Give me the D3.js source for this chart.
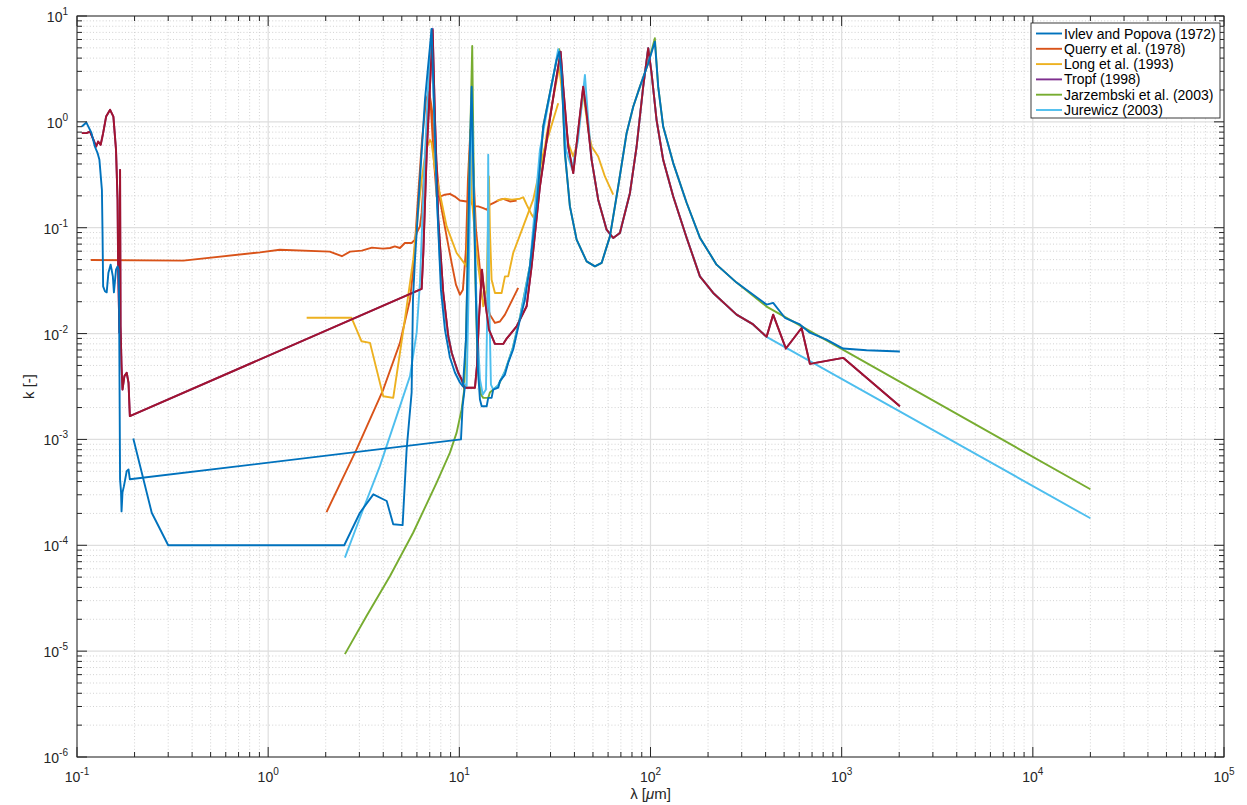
<!DOCTYPE html>
<html>
<head>
<meta charset="utf-8">
<script src="https://cdn.jsdelivr.net/npm/d3@7"></script>
<style>
  body { margin: 0; background: #fff; }
  svg { display: block; }
  text { font-family: "Liberation Sans", Arial, Helvetica, sans-serif; }
</style>
</head>
<body>
<svg id="chart" width="1247" height="805"></svg>
<script>
// Absorption index k versus wavelength (µm) for several published data sets, log-log axes

const legendLabels = [
  "Ivlev and Popova (1972)",
  "Querry et al. (1978)",
  "Long et al. (1993)",
  "Tropf (1998)",
  "Jarzembski et al. (2003)",
  "Jurewicz (2003)"
];
const seriesColors = ["#0072BD", "#D95319", "#EDB120", "#7E2F8E", "#77AC30", "#4DBEEE"];
const extraColor = "#A2142F";

const xTickExponents = [-1, 0, 1, 2, 3, 4, 5];
const yTickExponents = [-6, -5, -4, -3, -2, -1, 0, 1];

// Ivlev and Popova: UV part plus the joining segment up to 10 µm
const ivlevUvLambda = [0.106,0.112,0.119,0.124,0.128,0.131,0.135,0.136,0.137,0.140,0.143,0.146,0.150,0.154,0.156,0.160,0.163,0.165,0.166,0.168,0.170,0.171,0.173,0.176,0.182,0.186,0.189,10.2,10.4,10.7];
const ivlevUvK = [0.903,0.985,0.787,0.585,0.510,0.438,0.228,0.0897,0.0279,0.0251,0.0245,0.0376,0.0448,0.0347,0.0245,0.0402,0.0431,0.0402,0.0209,4.2e-4,3.16e-4,2.09e-4,3.16e-4,3.62e-4,5.02e-4,5.21e-4,4.2e-4,1.0e-3,2.06e-3,3.18e-3];

// Ivlev and Popova: visible / infrared part
const ivlevIrLambda = [0.197,0.246,0.30,2.5,3.02,3.55,4.17,4.51,5.05,5.30,5.63,5.72,5.86,6.22,6.61,7.16,7.36,7.64,8.01,8.41,8.93,9.48,10.07,10.44,10.83,11.09,11.36,11.60,11.92,12.22,12.51,12.82,13.09,13.90,14.16,14.75,15.04,15.98,16.31,17.32,18.02,19.13,20.75,22.03,23.40,25.37,27.47,29.77,32.28,33.31,34.28,35.67,37.88,41.07,46.33,51.21,55.51,61.35,67.78,74.99,81.21,88.04,97.27,105.4,109.7,116.5,131.5,154.5,181.3,221.6,282.0,404.8,438.2,504.7,604.4,681.9,833.7,1018,1350,2016];
const ivlevIrK = [1.02e-3,2.03e-4,1.0e-4,1.0e-4,2.03e-4,3.03e-4,2.62e-4,1.58e-4,1.55e-4,8.05e-4,2.78e-3,0.0209,0.0499,0.284,1.61,7.53,1.61,0.184,0.026,0.0109,5.94e-3,4.29e-3,3.45e-3,3.16e-3,8.78e-3,0.062,0.544,2.15,0.184,0.0209,4.57e-3,2.38e-3,2.06e-3,2.06e-3,2.47e-3,2.47e-3,2.96e-3,3.08e-3,3.55e-3,4.10e-3,5.30e-3,7.07e-3,0.0136,0.0209,0.0431,0.159,0.903,1.87,3.85,4.60,2.88,0.507,0.159,0.0771,0.0481,0.0431,0.0465,0.0828,0.245,0.782,1.39,2.15,3.58,5.72,2.15,0.903,0.408,0.172,0.0805,0.0448,0.0303,0.0188,0.0195,0.0141,0.0122,0.0102,8.78e-3,7.22e-3,6.95e-3,6.76e-3];

// Querry et al.: broad-band set and infrared set
const querryLambdaA = [0.118,0.36,0.906,1.15,2.10,2.43,2.68,3.09,3.49,3.99,4.34,4.60,4.89,5.19,5.63,5.86,5.98,6.22,6.35,6.61,6.85,6.98,7.11,7.36,7.61,7.91,8.41,8.93,9.48,10.07,10.92,11.36,11.82,12.56,13.34,13.90,14.45,15.04,16.31,16.97,18.39,19.94];
const querryKA = [0.0496,0.0489,0.0585,0.062,0.0594,0.0538,0.0594,0.0607,0.0648,0.0634,0.0643,0.0667,0.0643,0.0717,0.0717,0.0771,0.0891,0.103,0.138,0.438,1.30,1.80,1.30,0.438,0.197,0.197,0.205,0.209,0.197,0.181,0.177,0.184,0.159,0.159,0.153,0.148,0.165,0.171,0.184,0.187,0.177,0.181];
const querryLambdaB = [2.02,2.90,4.00,4.89,5.52,5.74,6.07,6.38,6.69,6.96,7.19,7.46,7.91,8.58,9.15,9.60,10.07,10.44,10.83,11.09,11.43,11.60,11.78,12.22,12.82,13.78,14.45,15.36,16.31,17.32,18.39,20.32];
const querryKB = [2.06e-4,8.05e-4,2.96e-3,8.17e-3,0.0209,0.0402,0.184,0.676,1.61,1.93,1.30,0.544,0.184,0.0828,0.0448,0.029,0.0233,0.026,0.062,0.284,0.84,0.903,0.438,0.0958,0.0402,0.0209,0.0151,0.0126,0.013,0.0151,0.0188,0.027];

// Long et al.: two measured sets
const longLambdaA = [1.59,2.73,3.08,3.41,4.00,4.51,4.89,5.19,5.74,6.07,6.35,6.69,7.02,7.16,7.46,8.58,9.68,10.92,11.22,11.43,11.63,12.32,13.34,13.87,14.11,14.29,14.45,14.75,15.36,16.64,17.32,18.02,19.13,21.59,24.35,27.47,32.90];
const longKA = [0.0141,0.0141,8.46e-3,8.17e-3,2.56e-3,2.47e-3,6.58e-3,0.0136,0.0499,0.133,0.284,0.544,0.676,0.634,0.352,0.103,0.0577,0.0431,0.184,0.84,0.184,0.0577,0.0181,0.026,0.0958,0.305,0.0958,0.0323,0.0242,0.0242,0.0347,0.0347,0.0577,0.103,0.184,0.507,1.50];
const longLambdaB = [15.73,17.32,18.84,20.75,21.59,22.49,23.88,24.56,26.40,28.61,30.86,33.31,34.94,37.12,39.42,40.94,44.46,47.22,49.20,53.26,57.74,63.81];
const longKB = [0.180,0.188,0.184,0.188,0.194,0.165,0.133,0.124,0.255,0.754,1.61,3.32,1.50,0.63,0.471,0.585,1.87,0.84,0.585,0.471,0.305,0.205];

// Tropf
const tropfLambda = [0.106,0.112,0.117,0.122,0.126,0.129,0.133,0.137,0.142,0.149,0.155,0.160,0.163,0.164,0.166,0.1667,0.168,0.169,0.171,0.173,0.177,0.182,0.186,0.189,6.35,6.48,6.75,7.02,7.25,7.46,7.76,8.24,8.75,9.12,9.48,9.87,10.28,10.61,12.07,12.36,12.66,13.13,13.61,14.29,15.36,16.97,17.68,19.94,22.49,23.88,26.40,29.17,31.62,33.88,34.94,37.12,39.42,40.94,44.46,46.33,49.20,53.26,58.94,63.81,69.17,78.04,84.61,91.58,97.27,101.3,107.6,116.5,131.5,154.5,181.3,212.8,282.0,344.4,404.8,438.2,510.8,617,681.9,1018,2016];
const tropfK = [0.782,0.782,0.81,0.676,0.585,0.652,0.607,0.782,1.122,1.30,1.122,0.544,0.184,0.0499,0.0146,0.0102,0.352,0.0117,4.92e-3,2.96e-3,3.96e-3,4.26e-3,3.43e-3,1.66e-3,0.0264,0.0577,0.507,2.15,7.6,1.04,0.119,0.0242,9.44e-3,6.58e-3,5.30e-3,4.26e-3,3.68e-3,3.08e-3,3.08e-3,4.92e-3,0.0136,0.0402,0.0209,0.0109,7.99e-3,7.99e-3,8.97e-3,0.0117,0.0181,0.0431,0.245,0.84,2.15,4.60,2.15,0.585,0.328,0.585,2.15,1.21,0.438,0.184,0.0958,0.08,0.0891,0.212,0.585,2.15,4.96,2.88,1.04,0.438,0.197,0.0805,0.0347,0.0242,0.0151,0.0122,9.31e-3,0.0151,7.22e-3,0.0113,5.18e-3,5.90e-3,2.06e-3];

// Jarzembski et al.
const jarzLambda = [2.52,3.27,4.34,5.74,7.61,8.93,9.68,10.28,10.58,10.83,11.09,11.36,11.68,11.85,12.07,12.36,12.66,12.97,13.34,14.16,14.45,15.04,15.98,17.32,19.07,20.75,23.40,25.37,27.47,29.77,32.28,33.31,34.28,35.67,37.88,41.07,46.33,51.21,55.51,61.35,67.78,74.99,81.21,88.04,97.27,105.4,109.7,116.5,131.5,154.5,181.3,221.6,282.0,404.8,20000];
const jarzK = [9.37e-6,2.15e-5,5.13e-5,1.32e-4,3.91e-4,7.50e-4,1.16e-3,1.92e-3,2.84e-3,8.78e-3,0.062,0.544,5.21,0.544,0.0499,8.78e-3,3.68e-3,2.66e-3,2.47e-3,2.47e-3,2.78e-3,2.96e-3,3.23e-3,4.38e-3,7.38e-3,0.0142,0.0438,0.159,0.903,1.87,3.85,4.85,2.88,0.507,0.159,0.0771,0.0481,0.0431,0.0465,0.0828,0.245,0.782,1.39,2.15,3.58,6.16,2.15,0.903,0.408,0.172,0.0805,0.0448,0.0303,0.018,3.38e-4];

// Jurewicz
const jurewiczLambda = [2.52,3.14,3.84,4.70,5.52,5.98,6.22,6.53,6.85,7.16,7.36,7.64,7.91,8.24,8.58,9.12,9.68,10.28,10.92,11.16,11.42,11.60,11.92,12.36,12.82,13.27,13.78,14.03,14.16,14.33,14.63,15.04,15.92,17.32,19.07,20.75,23.40,26.40,29.77,32.90,34.41,36.11,38.81,41.72,45.39,47.05,49.20,53.26,58.94,63.81,69.17,78.04,84.61,91.58,97.27,101.3,107.6,116.5,131.5,154.5,181.3,212.8,282.0,344.4,404.8,20000];
const jurewiczK = [7.66e-5,2.19e-4,5.60e-4,1.66e-3,3.96e-3,0.0102,0.0301,0.284,2.0,7.54,1.30,0.184,0.0499,0.0209,0.0117,6.58e-3,4.57e-3,3.55e-3,3.18e-3,0.0209,0.284,1.61,0.184,0.0136,3.68e-3,2.66e-3,2.96e-3,0.0209,0.489,0.0209,3.30e-3,2.96e-3,3.23e-3,4.38e-3,7.38e-3,0.0142,0.0438,0.544,1.80,4.85,2.49,0.544,0.36,0.66,2.78,1.14,0.438,0.184,0.0958,0.08,0.0891,0.212,0.585,2.15,4.96,2.88,1.04,0.438,0.197,0.0805,0.0347,0.0242,0.0151,0.0122,9.31e-3,1.8e-4];

// Seventh data set (not listed in the legend)
const s7Lambda = [0.106,0.112,0.117,0.122,0.126,0.129,0.133,0.137,0.142,0.149,0.155,0.160,0.163,0.164,0.166,0.1667,0.168,0.169,0.171,0.173,0.177,0.182,0.186,0.189,6.35,6.48,6.75,7.02,7.25,7.46,7.76,8.24,8.75,9.12,9.48,9.87,10.28,10.61,12.07,12.36,12.66,13.13,13.61,14.29,15.36,16.97,17.68,19.94,22.49,23.88,26.40,29.17,31.62,33.88,34.94,37.12,39.42,40.94,44.46,46.33,49.20,53.26,58.94,63.81,69.17,78.04,84.61,91.58,97.27,101.3,107.6,116.5,131.5,154.5,181.3,212.8,282.0,344.4,404.8,438.2,510.8,617,681.9,1018,2016];
const s7K = [0.782,0.782,0.81,0.676,0.585,0.652,0.607,0.782,1.122,1.30,1.122,0.544,0.184,0.0499,0.0146,0.0102,0.352,0.0117,4.92e-3,2.96e-3,3.96e-3,4.26e-3,3.43e-3,1.66e-3,0.0264,0.0577,0.507,2.15,7.38,1.04,0.119,0.0242,9.44e-3,6.58e-3,5.30e-3,4.26e-3,3.68e-3,3.08e-3,3.08e-3,4.92e-3,0.0136,0.0402,0.0209,0.0109,7.99e-3,7.99e-3,8.97e-3,0.0117,0.0181,0.0431,0.245,0.84,2.15,4.60,2.15,0.585,0.328,0.585,2.15,1.21,0.438,0.184,0.0958,0.08,0.0891,0.212,0.585,2.15,4.96,2.88,1.04,0.438,0.197,0.0805,0.0347,0.0242,0.0151,0.0122,9.31e-3,0.0151,7.22e-3,0.0113,5.18e-3,5.90e-3,2.06e-3];

// ---------------------------------------------------------------------------
const W = 1247, H = 805;
const L = 77, R = 1224, T = 16, B = 757;
const axisColor = "#262626";

const svg = d3.select("#chart");
svg.append("rect").attr("width", W).attr("height", H).attr("fill", "#fff");

const x = d3.scaleLog().domain([1e-1, 1e5]).range([L, R]);
const y = d3.scaleLog().domain([1e-6, 1e1]).range([B, T]);

const xMajor = xTickExponents.map(e => Math.pow(10, e));
const yMajor = yTickExponents.map(e => Math.pow(10, e));
function minorTicks(exps) {
  const out = [];
  for (let i = 0; i < exps.length - 1; i++) {
    for (let m = 2; m <= 9; m++) out.push(m * Math.pow(10, exps[i]));
  }
  return out;
}
const xMinor = minorTicks(xTickExponents);
const yMinor = minorTicks(yTickExponents);

// grid
const grid = svg.append("g");
grid.selectAll(".xmin").data(xMinor).join("line")
  .attr("x1", d => x(d)).attr("x2", d => x(d)).attr("y1", T).attr("y2", B)
  .attr("stroke", "#cdcdcd").attr("stroke-width", 0.9).attr("stroke-dasharray", "1,2.2");
grid.selectAll(".ymin").data(yMinor).join("line")
  .attr("x1", L).attr("x2", R).attr("y1", d => y(d)).attr("y2", d => y(d))
  .attr("stroke", "#cdcdcd").attr("stroke-width", 0.9).attr("stroke-dasharray", "1,2.2");
grid.selectAll(".xmaj").data(xMajor).join("line")
  .attr("x1", d => x(d)).attr("x2", d => x(d)).attr("y1", T).attr("y2", B)
  .attr("stroke", "#dedede").attr("stroke-width", 1.2);
grid.selectAll(".ymaj").data(yMajor).join("line")
  .attr("x1", L).attr("x2", R).attr("y1", d => y(d)).attr("y2", d => y(d))
  .attr("stroke", "#dedede").attr("stroke-width", 1.2);

// data lines
svg.append("defs").append("clipPath").attr("id", "plotclip")
  .append("rect").attr("x", L).attr("y", T).attr("width", R - L).attr("height", B - T);
const plot = svg.append("g").attr("clip-path", "url(#plotclip)");

const line = d3.line().x(d => x(d[0])).y(d => y(d[1]));
function drawSeries(lams, ks, color) {
  plot.append("path")
    .datum(d3.zip(lams, ks))
    .attr("d", line)
    .attr("fill", "none")
    .attr("stroke", color)
    .attr("stroke-width", 1.9)
    .attr("stroke-linejoin", "round");
}

drawSeries(querryLambdaA, querryKA, seriesColors[1]);
drawSeries(querryLambdaB, querryKB, seriesColors[1]);
drawSeries(longLambdaA, longKA, seriesColors[2]);
drawSeries(longLambdaB, longKB, seriesColors[2]);
drawSeries(tropfLambda, tropfK, seriesColors[3]);
drawSeries(jarzLambda, jarzK, seriesColors[4]);
drawSeries(jurewiczLambda, jurewiczK, seriesColors[5]);
drawSeries(s7Lambda, s7K, extraColor);
drawSeries(ivlevUvLambda, ivlevUvK, seriesColors[0]);
drawSeries(ivlevIrLambda, ivlevIrK, seriesColors[0]);

// axes box and ticks
const axes = svg.append("g").attr("stroke", axisColor).attr("stroke-width", 1);
axes.append("rect").attr("x", L).attr("y", T).attr("width", R - L).attr("height", B - T).attr("fill", "none");
const majLen = 10, minLen = 5;
function xTicks(vals, len) {
  vals.forEach(v => {
    axes.append("line").attr("x1", x(v)).attr("x2", x(v)).attr("y1", B).attr("y2", B - len);
    axes.append("line").attr("x1", x(v)).attr("x2", x(v)).attr("y1", T).attr("y2", T + len);
  });
}
function yTicks(vals, len) {
  vals.forEach(v => {
    axes.append("line").attr("x1", L).attr("x2", L + len).attr("y1", y(v)).attr("y2", y(v));
    axes.append("line").attr("x1", R).attr("x2", R - len).attr("y1", y(v)).attr("y2", y(v));
  });
}
xTicks(xMajor, majLen); xTicks(xMinor, minLen);
yTicks(yMajor, majLen); yTicks(yMinor, minLen);

// tick labels with superscript exponents
function powerLabel(g, e, px, py, anchor) {
  const t = g.append("text").attr("x", px).attr("y", py)
    .attr("text-anchor", anchor).attr("fill", axisColor).attr("font-size", 14);
  t.append("tspan").text("10");
  t.append("tspan").attr("font-size", 10).attr("dy", -7).text(String(e));
}
const labels = svg.append("g");
xTickExponents.forEach(e => powerLabel(labels, e, x(Math.pow(10, e)), 782, "middle"));
yTickExponents.forEach(e => powerLabel(labels, e, 68, y(Math.pow(10, e)) + 6, "end"));

// axis titles
const xt = svg.append("text").attr("x", (L + R) / 2).attr("y", 799)
  .attr("text-anchor", "middle").attr("font-size", 15).attr("fill", axisColor);
xt.append("tspan").text("λ [");
xt.append("tspan").attr("font-style", "italic").text("μ");
xt.append("tspan").text("m]");
svg.append("text").attr("transform", "translate(34," + ((T + B) / 2) + ") rotate(-90)")
  .attr("text-anchor", "middle").attr("font-size", 15).attr("fill", axisColor).text("k [-]");

// legend
const lg = svg.append("g");
const lgX = 1031, lgY = 23, lgW = 189, lgH = 95, rowH = 15.3;
lg.append("rect").attr("x", lgX).attr("y", lgY).attr("width", lgW).attr("height", lgH)
  .attr("fill", "#fff").attr("stroke", axisColor).attr("stroke-width", 0.9);
legendLabels.forEach((name, i) => {
  const cy = lgY + 10.5 + i * rowH;
  lg.append("line").attr("x1", lgX + 5).attr("x2", lgX + 31).attr("y1", cy).attr("y2", cy)
    .attr("stroke", seriesColors[i]).attr("stroke-width", 1.9);
  lg.append("text").attr("x", lgX + 33).attr("y", cy + 5).attr("font-size", 14)
    .attr("fill", "#000").text(name);
});
</script>
</body>
</html>
